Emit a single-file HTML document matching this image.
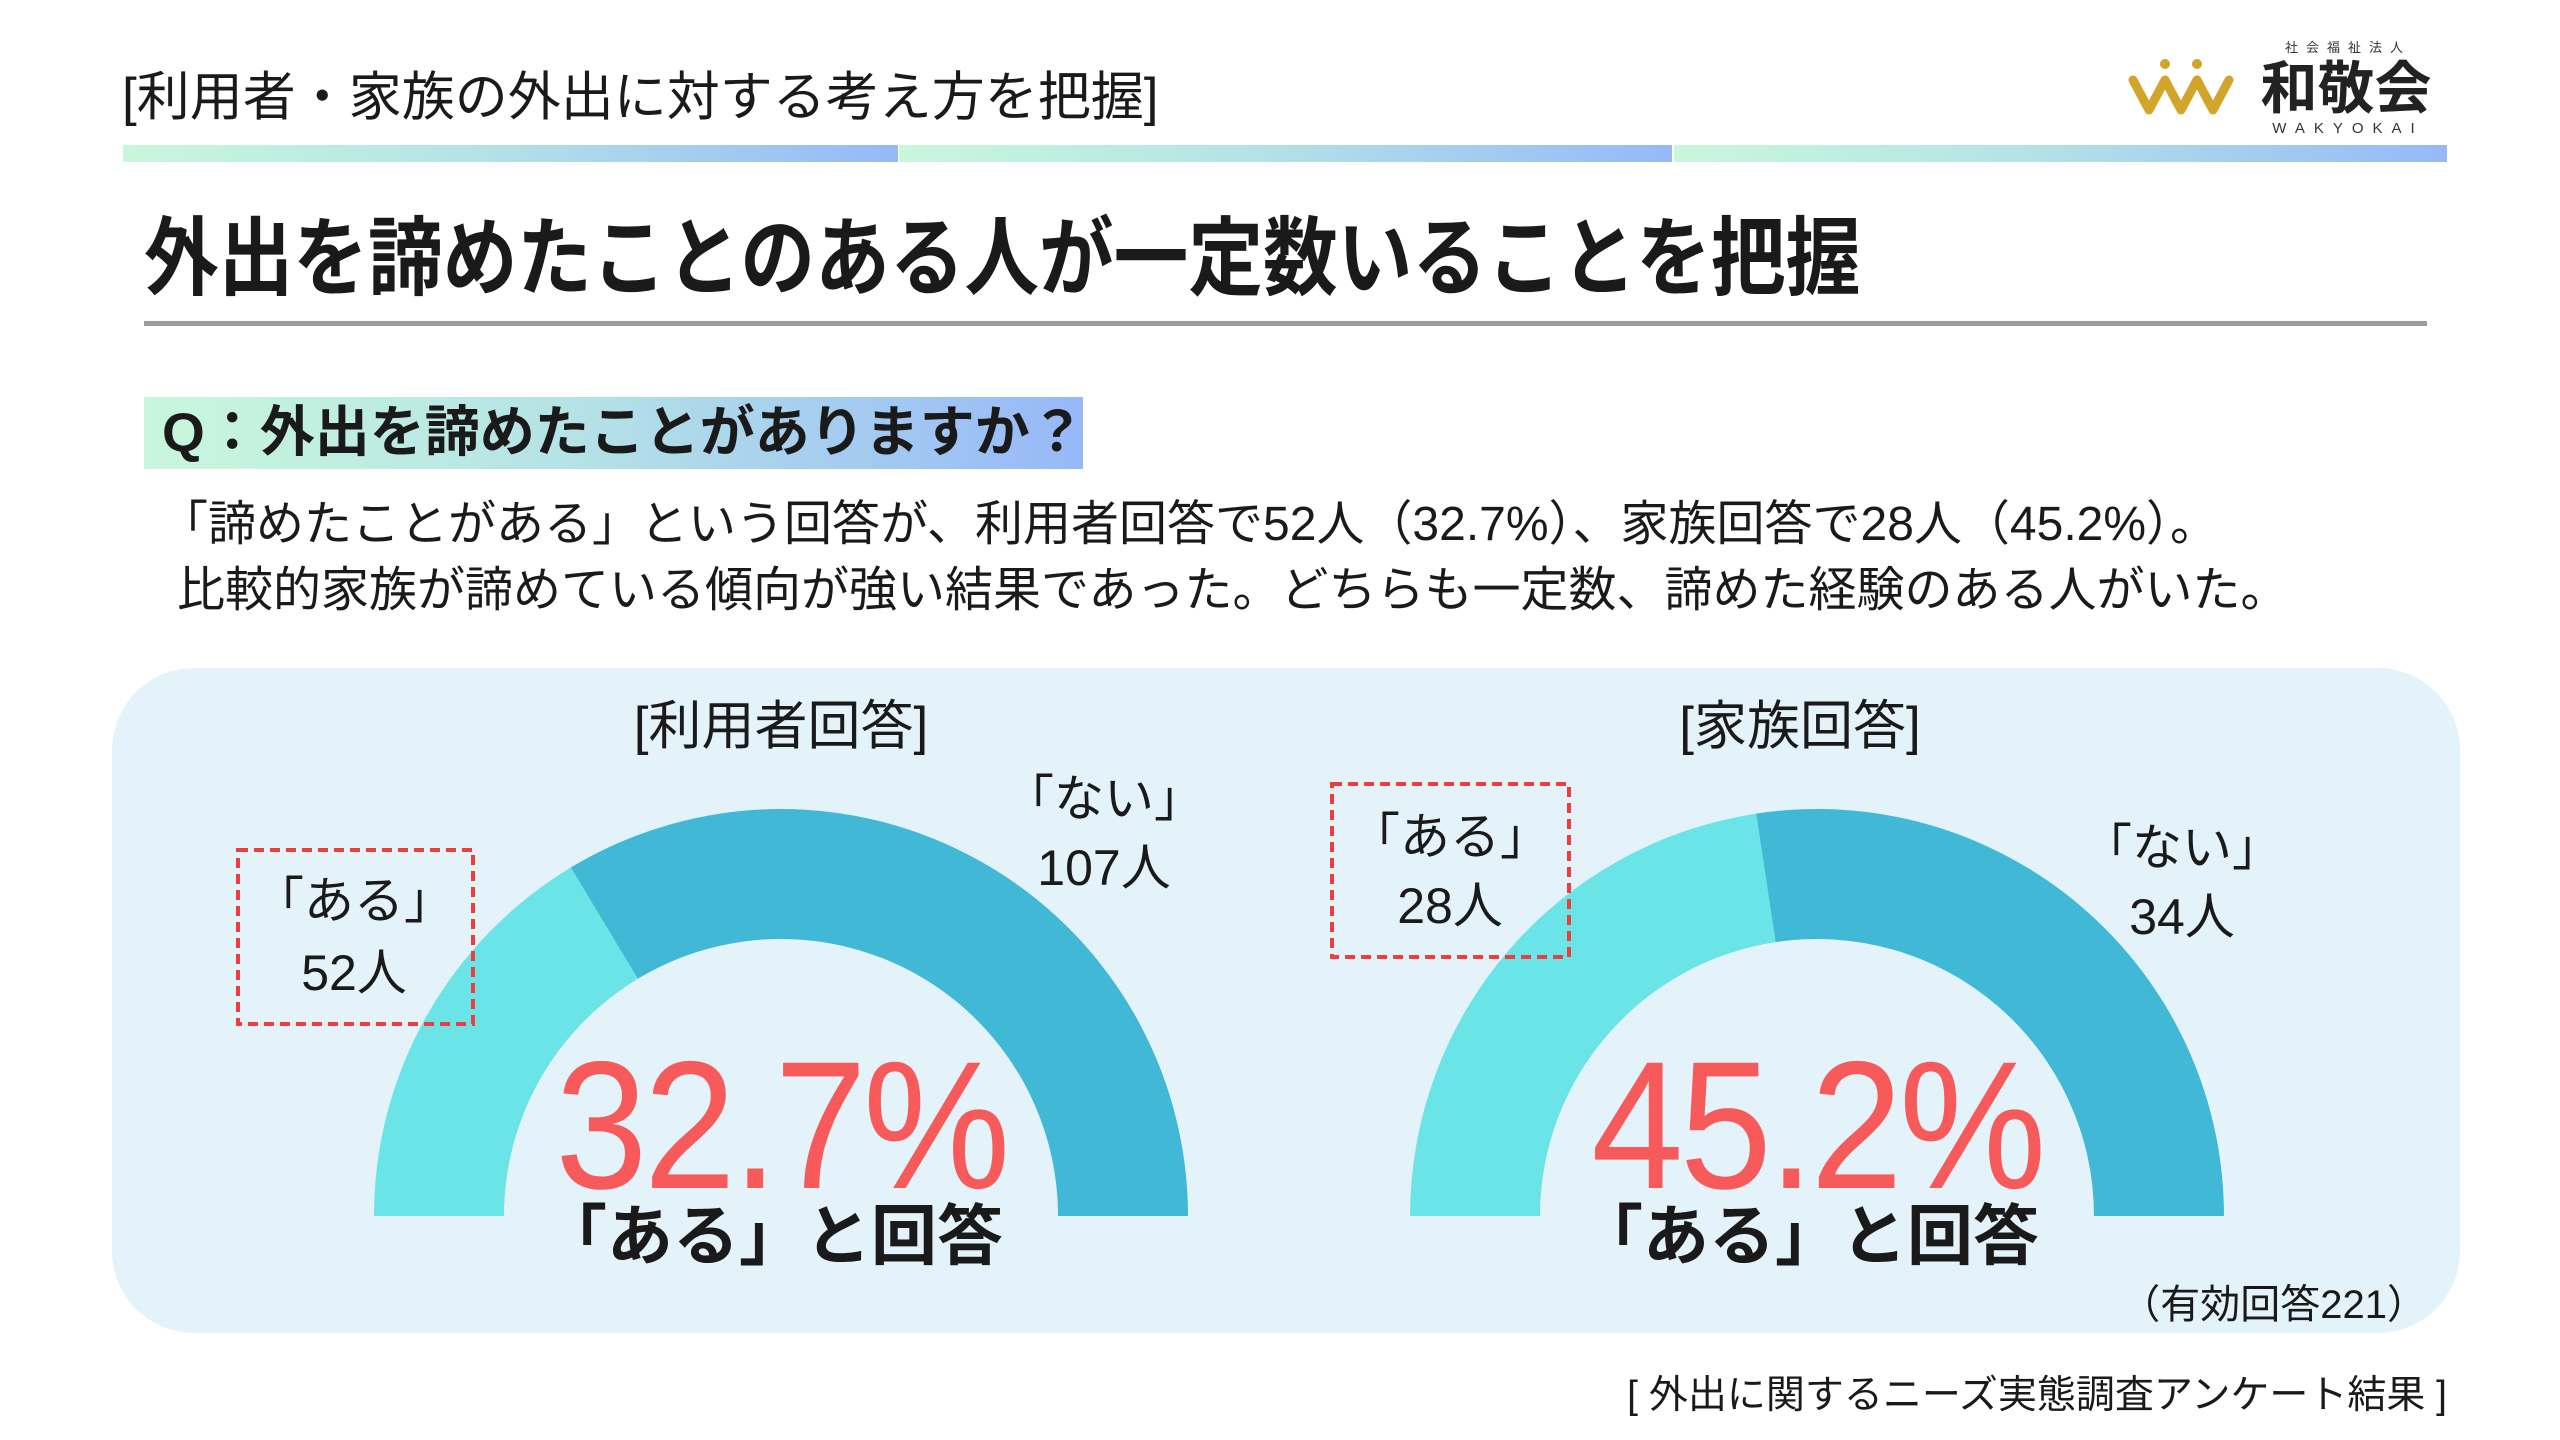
<!DOCTYPE html>
<html><head><meta charset="utf-8">
<style>
html,body{margin:0;padding:0;}
body{width:2560px;height:1440px;background:#fff;position:relative;overflow:hidden;font-family:"Liberation Sans","Noto Sans CJK JP",sans-serif;color:#1a1a1a;}
.t{position:absolute;white-space:nowrap;line-height:1;}
.c{transform:translateX(-50%);}
.r{transform:translateX(-100%);}
.grad{background:linear-gradient(90deg,#c9f7dc 0%,#b5e3e6 45%,#97b8f8 100%);}
</style></head><body>

<div class="t" style="left:122px;top:71px;font-size:53px;">[利用者・家族の外出に対する考え方を把握]</div>

<div class="grad" style="position:absolute;left:123px;top:145px;width:775px;height:17px;"></div>
<div class="grad" style="position:absolute;left:899px;top:145px;width:773px;height:17px;"></div>
<div class="grad" style="position:absolute;left:1674px;top:145px;width:773px;height:17px;"></div>

<!-- logo -->
<svg style="position:absolute;left:2125px;top:38px;" width="320" height="100" viewBox="0 0 320 100">
  <g fill="none" stroke="#d2a42a" stroke-width="9" stroke-linecap="round" stroke-linejoin="round">
    <polyline points="8,42 24,72 40,42 56,72 72,42"/>
    <polyline points="72,42 88,72 104,42"/>
  </g>
  <circle cx="40" cy="26" r="5" fill="#d2a42a"/>
  <circle cx="72" cy="26" r="5" fill="#d2a42a"/>
  <text x="223" y="14" font-size="13" font-family="Noto Sans CJK JP" text-anchor="middle" fill="#333" letter-spacing="8">社会福祉法人</text>
  <text x="221" y="70" font-size="57" font-weight="bold" font-family="Noto Sans CJK JP" text-anchor="middle" fill="#222">和敬会</text>
  <text x="223" y="95" font-size="15" font-family="Liberation Sans" text-anchor="middle" fill="#333" letter-spacing="9">WAKYOKAI</text>
</svg>

<div class="t" style="left:144px;top:216px;font-size:86px;font-weight:bold;transform:scaleX(0.868);transform-origin:0 0;">外出を諦めたことのある人が一定数いることを把握</div>
<div style="position:absolute;left:144px;top:321px;width:2283px;height:5px;background:#9a9d9e;"></div>

<div class="grad" style="position:absolute;left:144px;top:397px;width:939px;height:72px;"></div>
<div class="t" style="left:162px;top:405px;font-size:55px;font-weight:bold;">Q：外出を諦めたことがありますか？</div>

<div class="t" style="left:160px;top:501px;font-size:48px;">「諦めたことがある」という回答が、利用者回答で52人（32.7%）、家族回答で28人（45.2%）。</div>
<div class="t" style="left:177px;top:567px;font-size:48px;">比較的家族が諦めている傾向が強い結果であった。どちらも一定数、諦めた経験のある人がいた。</div>

<div style="position:absolute;left:112px;top:668px;width:2348px;height:665px;border-radius:82px;background:#e3f3f9;"></div>

<svg style="position:absolute;left:0;top:0;" width="2560" height="1440">
  <g transform="translate(781,1216)">
    <path d="M -407 0 A 407 407 0 0 1 -210.2 -348.5 L -143.1 -237.2 A 277 277 0 0 0 -277 0 Z" fill="#6be4e8"/>
    <path d="M -210.2 -348.5 A 407 407 0 0 1 407 0 L 277 0 A 277 277 0 0 0 -143.1 -237.2 Z" fill="#42b8d7"/>
  </g>
  <g transform="translate(1817,1216)">
    <path d="M -407 0 A 407 407 0 0 1 -60.8 -402.4 L -41.4 -273.9 A 277 277 0 0 0 -277 0 Z" fill="#6be4e8"/>
    <path d="M -60.8 -402.4 A 407 407 0 0 1 407 0 L 277 0 A 277 277 0 0 0 -41.4 -273.9 Z" fill="#42b8d7"/>
  </g>
  <rect x="238" y="850" width="235" height="174" fill="none" stroke="#ee3d3d" stroke-width="4" stroke-dasharray="10,6"/>
  <rect x="1332" y="784" width="237" height="173" fill="none" stroke="#ee3d3d" stroke-width="4" stroke-dasharray="10,6"/>
</svg>

<div class="t c" style="left:781px;top:700px;font-size:53px;">[利用者回答]</div>
<div class="t c" style="left:1800px;top:700px;font-size:53px;">[家族回答]</div>

<div class="t c" style="left:1104px;top:774px;font-size:50px;">「ない」</div>
<div class="t c" style="left:1104px;top:843px;font-size:50px;">107人</div>

<div class="t c" style="left:354px;top:876px;font-size:50px;">「ある」</div>
<div class="t c" style="left:354px;top:948px;font-size:50px;">52人</div>

<div class="t c" style="left:1450px;top:812px;font-size:50px;">「ある」</div>
<div class="t c" style="left:1450px;top:881px;font-size:50px;">28人</div>

<div class="t c" style="left:2182px;top:823px;font-size:50px;">「ない」</div>
<div class="t c" style="left:2182px;top:892px;font-size:50px;">34人</div>

<div class="t" style="left:781px;top:1034px;font-size:182px;color:#f75a5a;letter-spacing:-4px;transform:translateX(-50%) scaleX(0.91);">32.7%</div>
<div class="t" style="left:1817px;top:1034px;font-size:182px;color:#f75a5a;letter-spacing:-4px;transform:translateX(-50%) scaleX(0.91);">45.2%</div>

<div class="t c" style="left:772px;top:1203px;font-size:66px;font-weight:bold;">「ある」と回答</div>
<div class="t c" style="left:1808px;top:1203px;font-size:66px;font-weight:bold;">「ある」と回答</div>

<div class="t r" style="left:2427px;top:1285px;font-size:40px;">（有効回答221）</div>
<div class="t r" style="left:2447px;top:1376px;font-size:39px;">[ 外出に関するニーズ実態調査アンケート結果 ]</div>

</body></html>
